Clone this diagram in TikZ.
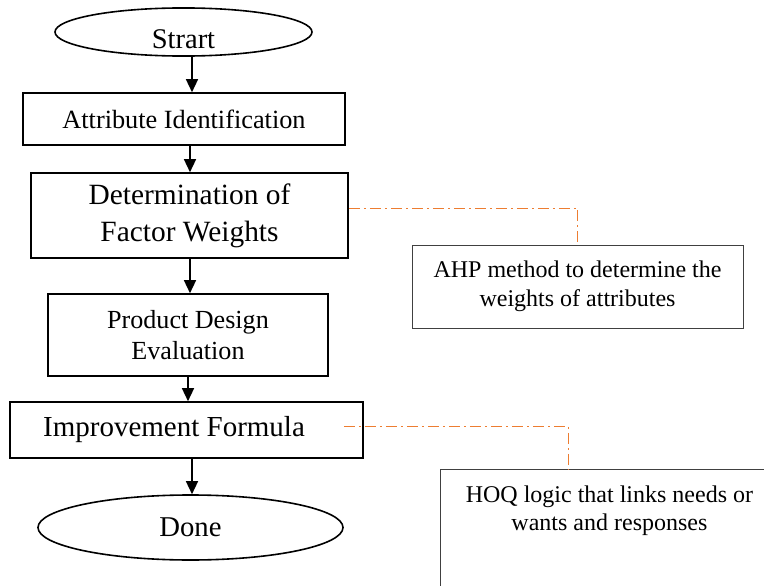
\documentclass[tikz,border=0pt]{standalone}
\usepackage{fontspec}
\setmainfont{Liberation Serif}
\usetikzlibrary{arrows.meta,shapes.geometric}
\definecolor{noteline}{RGB}{237,125,49}
\definecolor{noteframe}{RGB}{64,64,64}
\begin{document}
\begin{tikzpicture}[x=1pt,y=-1pt,
  stepbox/.style={draw=black, line width=1.6pt, rectangle, inner sep=0pt, align=center},
  terminal/.style={draw=black, line width=1.6pt, ellipse, inner sep=0pt},
  notebox/.style={draw=noteframe, line width=0.9pt, rectangle, inner sep=0pt, align=center},
  flow/.style={line width=1.4pt, -{Triangle[length=13pt,width=12pt]}},
  link/.style={draw=noteline, line width=0.9pt, dash pattern=on 11pt off 4pt on 2pt off 4pt},
]
\useasboundingbox (0,0) rectangle (764,586);

% main flow
\node[terminal, minimum width=257pt, minimum height=48pt, text height=34pt, text depth=0pt,
      font=\fontsize{28.5}{34}\selectfont] (start) at (183.5,32) {Strart};
\node[stepbox, minimum width=322pt, minimum height=52pt,
      font=\fontsize{26.3}{31}\selectfont] (attr) at (184,119) {Attribute Identification};
\node[stepbox, minimum width=317pt, minimum height=85pt,
      font=\fontsize{29.4}{37}\selectfont] (det) at (189.5,215.5) {Determination of\\Factor Weights};
\node[stepbox, minimum width=280pt, minimum height=82pt,
      font=\fontsize{26.1}{31}\selectfont] (prod) at (188,335) {Product Design\\Evaluation};
\node[stepbox, minimum width=353pt, minimum height=56pt,
      font=\fontsize{29}{35}\selectfont] (impr) at (186.5,430) {Improvement Formula\hspace*{25pt}};
\node[terminal, minimum width=305pt, minimum height=65pt,
      font=\fontsize{28.7}{34}\selectfont] (done) at (190.5,527.5) {Done};

% side notes
\node[notebox, minimum width=331pt, minimum height=83pt,
      font=\fontsize{24}{29}\selectfont] (ahp) at (577.5,286.5) {AHP method to determine the\\weights of attributes};
\node[notebox, anchor=north west, font=\fontsize{24}{28}\selectfont] (hoq) at (440,469)
  {\parbox[c][160pt][t]{338pt}{\centering\vspace*{16pt}HOQ logic that links needs or\\wants and responses\par}};

% arrow columns
\coordinate (a1) at (192,0);
\coordinate (a2) at (190,0);
\coordinate (a3) at (190,0);
\coordinate (a4) at (188,0);
\coordinate (a5) at (192,0);

\draw[flow] (start.south -| a1) -- (attr.north -| a1);
\draw[flow] (attr.south -| a2) -- (det.north -| a2);
\draw[flow] (det.south -| a3) -- (prod.north -| a3);
\draw[flow] (prod.south -| a4) -- (impr.north -| a4);
\draw[flow] (impr.south -| a5) -- (done.north -| a5);

% links to the notes
\coordinate (hoqtap) at ([xshift=128pt]hoq.north west);
\draw[link] ([yshift=7.5pt]det.east) -| (ahp.north);
\draw[link] ([xshift=-20pt,yshift=4pt]impr.east) -| (hoqtap);
\end{tikzpicture}
\end{document}
